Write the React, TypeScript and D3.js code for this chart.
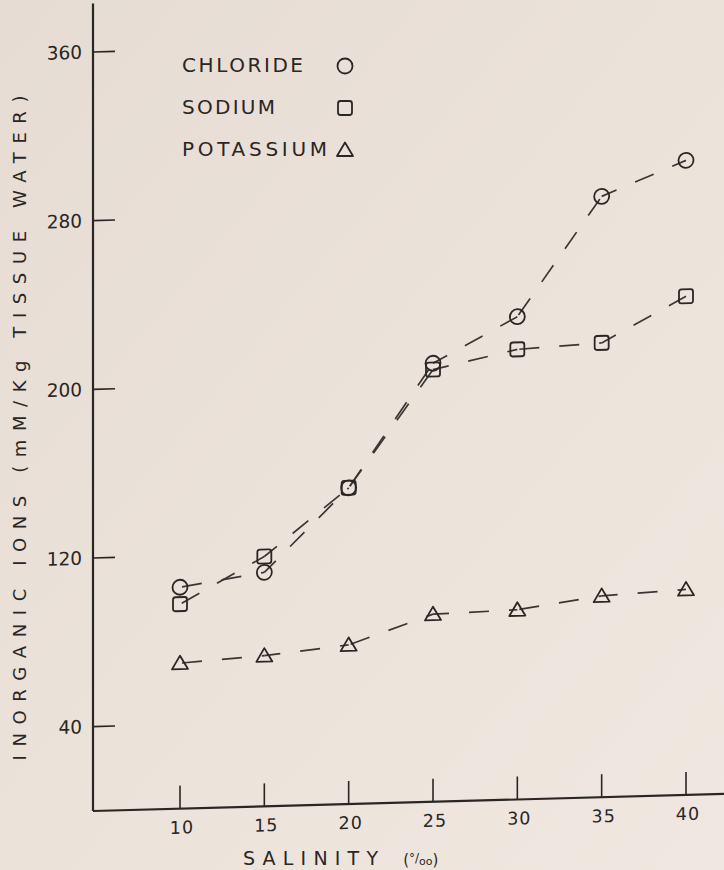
import React, { useEffect, useRef } from "react";
import * as d3 from "d3";

// salinity (per mille) on x, ion content (mM/Kg tissue water) on y
const salinity = [10, 15, 20, 25, 30, 35, 40];
const chloride = [105, 111, 150, 208, 229, 285, 301];
const sodium = [97, 118.5, 150, 205, 213.5, 215.5, 236.5];
const potassium = [69, 71.5, 75.5, 89, 90, 95.5, 97.5];
const yTicks = [40, 120, 200, 280, 360];
const legendLabels = ["CHLORIDE", "SODIUM", "POTASSIUM"];

const W = 724;
const H = 870;
const ink = "#2a2624";
const font = "'DejaVu Sans', sans-serif";

const drawMarker = (sel: any, kind: string, cx: number, cy: number) => {
  if (kind === "circle") {
    sel.append("circle").attr("cx", cx).attr("cy", cy).attr("r", 7.5);
  } else if (kind === "square") {
    sel.append("rect").attr("x", cx - 7).attr("y", cy - 7)
      .attr("width", 14).attr("height", 14).attr("rx", 2.5);
  } else {
    sel.append("path")
      .attr("d", `M${cx},${cy - 7.5}L${cx + 8},${cy + 6}L${cx - 8},${cy + 6}Z`)
      .attr("stroke-linejoin", "round");
  }
};

const App = () => {
  const ref = useRef<SVGSVGElement>(null);

  useEffect(() => {
    const svg = d3.select(ref.current);
    svg.selectAll("*").remove();

    const defs = svg.append("defs");
    const grad = defs.append("linearGradient").attr("id", "paper")
      .attr("x1", 0).attr("y1", 0).attr("x2", 1).attr("y2", 1);
    grad.append("stop").attr("offset", "0%").attr("stop-color", "#e6dcd3");
    grad.append("stop").attr("offset", "100%").attr("stop-color", "#f0e8e0");
    svg.append("rect").attr("width", W).attr("height", H).attr("fill", "url(#paper)");

    // the scanned figure is slightly skewed: baseline climbs to the right
    const g = svg.append("g").attr("transform", "translate(93,0) skewY(-1.55)");

    const x = d3.scaleLinear().domain([10, 40]).range([87, 593]);
    const y = d3.scaleLinear().domain([0, 360]).range([811, 52]);

    // y axis
    g.append("line").attr("x1", 0).attr("x2", 0)
      .attr("y1", y(383)).attr("y2", y(0))
      .attr("stroke", ink).attr("stroke-width", 2.2);
    const yt = g.selectAll(".yt").data(yTicks).enter().append("g");
    yt.append("line").attr("x1", 0).attr("x2", 22)
      .attr("y1", d => y(d)).attr("y2", d => y(d))
      .attr("stroke", ink).attr("stroke-width", 1.6);
    yt.append("text").attr("x", -11).attr("y", d => y(d) + 6.5)
      .attr("text-anchor", "end").attr("font-family", font).attr("font-size", 18.5)
      .attr("fill", ink)
      .text(d => d);

    // x axis
    g.append("line").attr("x1", 0).attr("x2", 660)
      .attr("y1", y(0)).attr("y2", y(0))
      .attr("stroke", ink).attr("stroke-width", 2.2);
    const xt = g.selectAll(".xt").data(salinity).enter().append("g");
    xt.append("line").attr("x1", d => x(d)).attr("x2", d => x(d))
      .attr("y1", y(0)).attr("y2", y(0) - 23)
      .attr("stroke", ink).attr("stroke-width", 1.6);
    xt.append("text").attr("x", d => x(d) + 2).attr("y", y(0) + 25)
      .attr("text-anchor", "middle").attr("font-family", font).attr("font-size", 17.5)
      .attr("letter-spacing", 1).attr("fill", ink)
      .text(d => d);

    const series = [
      { values: chloride, kind: "circle" },
      { values: sodium, kind: "square" },
      { values: potassium, kind: "triangle" },
    ];

    const line = d3.line<[number, number]>();
    series.forEach(s => {
      const pts: [number, number][] = salinity.map((sv, i) => [x(sv), y(s.values[i])]);
      for (let i = 0; i < pts.length - 1; i++) {
        g.append("path").attr("d", line([pts[i], pts[i + 1]]))
          .attr("fill", "none").attr("stroke", "#3a3633")
          .attr("stroke-width", 1.7).attr("stroke-dasharray", "20 20")
          .attr("stroke-dashoffset", i % 2 ? 4 : -2);
      }
    });
    series.forEach(s => {
      const mg = g.append("g").attr("fill", "none").attr("stroke", ink).attr("stroke-width", 1.8);
      salinity.forEach((sv, i) => drawMarker(mg, s.kind, x(sv), y(s.values[i])));
    });

    // legend
    const legendY = [64, 106, 148];
    legendLabels.forEach((lab, i) => {
      svg.append("text").attr("x", 182).attr("y", legendY[i] + 7.5)
        .attr("font-family", font).attr("font-size", 20).attr("fill", ink)
        .attr("textLength", [121, 93, 145][i]).attr("lengthAdjust", "spacing")
        .text(lab);
      const mg = svg.append("g").attr("fill", "none").attr("stroke", ink).attr("stroke-width", 1.8);
      drawMarker(mg, series[i].kind, 345, legendY[i] + 2);
    });

    // axis titles
    svg.append("text")
      .attr("transform", "translate(26,428) rotate(-90)")
      .attr("text-anchor", "middle").attr("font-family", font).attr("font-size", 18)
      .attr("fill", ink).attr("textLength", 665).attr("lengthAdjust", "spacing")
      .text("INORGANIC IONS (mM/Kg TISSUE WATER)");

    const xt2 = svg.append("text").attr("x", 243).attr("y", 865)
      .attr("font-family", font).attr("fill", ink);
    xt2.append("tspan").attr("font-size", 19).attr("textLength", 135)
      .attr("lengthAdjust", "spacing").text("SALINITY");
    xt2.append("tspan").attr("dx", 18).attr("font-size", 15).text("(");
    xt2.append("tspan").attr("font-size", 12).attr("dy", -3).text("°/");
    xt2.append("tspan").attr("font-size", 11).attr("dy", 3).text("oo");
    xt2.append("tspan").attr("font-size", 15).text(")");
  }, []);

  return (
    <svg ref={ref} width={W} height={H}
      style={{ position: "absolute", left: 0, top: 0, display: "block" }} />
  );
};

export default App;
